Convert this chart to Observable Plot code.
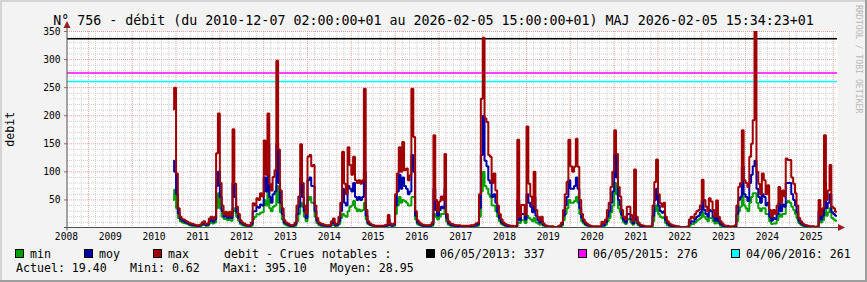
<!DOCTYPE html>
<html><head><meta charset="utf-8">
<script src="https://cdn.jsdelivr.net/npm/d3@7"></script>
<script src="https://cdn.jsdelivr.net/npm/@observablehq/plot@0.6"></script>
<style>
html,body{margin:0;padding:0;background:#f3f3f3;}
#chart{width:867px;height:282px;overflow:hidden;}
svg{display:block}
</style></head><body><div id="chart"></div>
<script>
const FONT = "DejaVu Sans Mono, monospace";
const titleText = "N° 756 - débit (du 2010-12-07 02:00:00+01 au 2026-02-05 15:00:00+01) MAJ 2026-02-05 15:34:23+01";
const yLabel = "debit";
const watermark = "RRDTOOL / TOBI OETIKER";

// first two samples (Dec 2010), then two samples per month (1st, 16th) from Jan 2011
const firstDates = ["2010-12-07", "2010-12-16"];
const halfMonthStartYear = 2011;

const maxSeries = [
  211, 250,
  97, 35, 20, 16, 15, 13, 11, 9, 8, 7, 6, 5, 5, 6, 10, 12, 7, 8, 17, 20, 15, 20, 133, 204,
  80, 40, 24, 29, 22, 29, 22, 176, 79, 38, 25, 14, 10, 8, 6, 5, 5, 10, 44, 40, 53, 50, 62, 56,
  156, 95, 204, 79, 67, 91, 103, 298, 140, 67, 35, 14, 10, 8, 6, 5, 6, 10, 40, 56, 149, 80, 40, 25,
  127, 130, 110, 112, 40, 18, 10, 8, 7, 6, 5, 5, 5, 12, 17, 7, 8, 20, 45, 136, 79, 60, 144, 112,
  95, 127, 85, 80, 85, 79, 85, 248, 32, 12, 8, 6, 5, 4, 4, 4, 4, 4, 5, 6, 23, 8, 6, 8,
  60, 97, 144, 100, 153, 103, 106, 85, 94, 248, 162, 30, 14, 10, 7, 6, 5, 5, 5, 6, 10, 165, 50, 30,
  47, 56, 50, 132, 25, 12, 8, 7, 6, 5, 5, 5, 4, 4, 4, 4, 4, 5, 5, 6, 8, 10, 60, 230,
  339, 195, 189, 130, 127, 80, 97, 67, 40, 25, 15, 10, 7, 6, 5, 4, 4, 3, 4, 157, 20, 41, 41, 23,
  181, 79, 56, 40, 100, 32, 20, 14, 20, 8, 5, 4, 3, 3, 3, 2, 2, 3, 5, 10, 32, 60, 82, 157,
  110, 100, 109, 159, 109, 50, 25, 15, 10, 7, 5, 4, 3, 3, 3, 3, 3, 11, 8, 15, 32, 45, 73, 100,
  174, 132, 73, 56, 32, 20, 15, 38, 38, 23, 12, 104, 20, 10, 6, 5, 4, 3, 3, 3, 4, 40, 82, 122,
  60, 44, 38, 45, 20, 12, 8, 6, 5, 4, 3, 3, 2, 2, 2, 2, 3, 15, 20, 18, 25, 30, 32, 40,
  86, 50, 38, 30, 53, 47, 32, 20, 49, 20, 12, 8, 5, 4, 4, 3, 3, 3, 5, 40, 73, 80, 174, 85,
  80, 73, 127, 150, 192, 395, 100, 79, 60, 97, 85, 60, 76, 32, 20, 32, 25, 40, 73, 45, 67, 56, 124, 121,
  121, 90, 79, 62, 40, 18, 12, 8, 6, 5, 4, 3, 3, 3, 2, 3, 50, 23, 35, 165, 50, 67, 112, 38,
  35, 29, 29
];
const moySeries = [
  120, 100,
  60, 26, 16, 13, 12, 10, 9, 7, 6, 5, 5, 4, 4, 5, 7, 9, 5, 6, 12, 15, 11, 15, 75, 100,
  55, 30, 20, 22, 18, 22, 18, 80, 55, 28, 18, 10, 8, 6, 5, 4, 4, 7, 30, 30, 38, 36, 42, 40,
  90, 65, 150, 55, 45, 60, 65, 150, 80, 45, 25, 10, 8, 6, 4, 4, 4, 7, 25, 38, 90, 55, 30, 18,
  85, 90, 75, 75, 30, 13, 8, 6, 5, 4, 4, 4, 4, 8, 10, 5, 6, 12, 30, 70, 45, 40, 75, 70,
  65, 80, 55, 50, 55, 50, 55, 100, 22, 9, 6, 5, 4, 3, 3, 3, 3, 3, 4, 4, 15, 6, 4, 6,
  40, 65, 95, 70, 90, 75, 70, 60, 65, 130, 100, 22, 10, 7, 5, 4, 4, 4, 4, 4, 7, 70, 32, 22,
  32, 38, 35, 70, 18, 9, 6, 5, 4, 4, 3, 3, 3, 3, 3, 3, 3, 3, 4, 4, 5, 7, 35, 130,
  200, 120, 110, 85, 80, 55, 60, 45, 28, 17, 10, 7, 5, 4, 3, 3, 3, 2, 3, 50, 14, 25, 25, 15,
  60, 45, 38, 28, 55, 22, 14, 10, 13, 6, 4, 3, 2, 2, 2, 2, 2, 2, 3, 7, 22, 40, 55, 85,
  70, 70, 75, 90, 70, 35, 18, 11, 7, 5, 4, 3, 2, 2, 2, 2, 2, 6, 5, 10, 20, 30, 45, 65,
  130, 90, 50, 40, 23, 14, 10, 25, 25, 15, 8, 50, 14, 7, 4, 3, 3, 2, 2, 2, 3, 22, 50, 70,
  40, 30, 27, 30, 14, 8, 5, 4, 3, 3, 2, 2, 1.5, 1.5, 1.5, 1.5, 2, 8, 12, 11, 16, 20, 22, 28,
  50, 32, 25, 20, 32, 30, 20, 13, 28, 12, 7, 5, 3, 3, 2, 2, 2, 2, 3, 25, 50, 55, 110, 60,
  55, 48, 80, 95, 110, 120, 70, 55, 45, 60, 55, 40, 45, 20, 13, 18, 16, 25, 45, 30, 42, 38, 80, 80,
  80, 60, 50, 40, 28, 13, 8, 6, 4, 4, 3, 2, 2, 2, 1.5, 2, 30, 15, 22, 80, 35, 45, 60, 28,
  25, 22, 22
];
const minSeries = [
  50, 68,
  35, 18, 12, 10, 9, 8, 7, 5, 4, 4, 3, 3, 3, 3, 5, 6, 4, 4, 8, 10, 8, 10, 35, 62,
  35, 20, 16, 16, 14, 16, 13, 35, 30, 20, 13, 7, 5, 4, 3, 3, 3, 4, 16, 20, 25, 24, 27, 28,
  50, 40, 65, 35, 30, 38, 40, 75, 45, 28, 15, 7, 5, 4, 3, 3, 3, 4, 12, 25, 45, 38, 20, 12,
  50, 55, 45, 45, 20, 9, 5, 4, 3, 3, 3, 3, 3, 5, 6, 3, 4, 7, 18, 25, 22, 20, 30, 38,
  40, 48, 35, 30, 33, 30, 32, 45, 15, 7, 5, 4, 3, 3, 2, 2, 2, 2, 3, 3, 8, 4, 3, 4,
  25, 40, 55, 45, 50, 48, 45, 40, 40, 55, 55, 15, 7, 5, 4, 3, 3, 3, 3, 3, 4, 25, 20, 15,
  20, 25, 25, 40, 12, 6, 4, 3, 3, 3, 2, 2, 2, 2, 2, 2, 2, 2, 2, 3, 3, 4, 20, 65,
  100, 75, 70, 60, 55, 40, 40, 30, 20, 12, 7, 5, 4, 3, 2, 2, 2, 2, 2, 10, 9, 14, 14, 9,
  22, 18, 15, 12, 18, 10, 8, 6, 8, 4, 3, 2, 2, 1.5, 1.5, 1.5, 1.5, 1.5, 2, 4, 14, 25, 35, 50,
  45, 45, 48, 55, 45, 25, 12, 8, 5, 4, 3, 2, 1.5, 1.5, 1.5, 1.5, 1.5, 3, 3, 6, 12, 18, 28, 40,
  80, 60, 35, 28, 17, 10, 7, 15, 16, 10, 6, 20, 9, 5, 3, 2, 2, 1.5, 1.5, 1.5, 2, 12, 30, 40,
  25, 20, 18, 20, 9, 5, 3, 3, 2, 2, 1.5, 1.5, 1, 1, 1, 1, 1, 4, 7, 7, 10, 13, 15, 18,
  28, 20, 16, 12, 18, 18, 12, 8, 14, 8, 4, 3, 2, 2, 1.5, 1.5, 1.5, 1.5, 2, 12, 30, 38, 62, 40,
  35, 30, 45, 55, 62, 62, 45, 35, 30, 35, 35, 25, 25, 12, 7, 8, 8, 14, 25, 20, 25, 25, 45, 48,
  45, 38, 32, 25, 18, 9, 6, 4, 3, 3, 2, 1.5, 1.5, 1.5, 1, 1.5, 15, 10, 14, 40, 22, 28, 35, 18,
  15, 13, 13
];

const yearLabels = [2008,2009,2010,2011,2012,2013,2014,2015,2016,2017,2018,2019,2020,2021,2022,2023,2024,2025];
const yTicks = [50, 100, 150, 200, 250, 300, 350];
const yMinorStep = 10;
const yDomain = [0, 350];
const xDomain = ["2008-07-10T00:00:00Z", "2026-02-05T14:00:00Z"];

const seriesNames = ["min", "moy", "max"];
const seriesColors = ["#00a000", "#0000a8", "#a00000"];
const crueTitle = "debit - Crues notables :";
const crueLabels = ["06/05/2013: 337", "06/05/2015: 276", "04/06/2016: 261"];
const crueValues = [337, 276, 261];
const crueColors = ["#000000", "#ff00ff", "#00ffff"];
const statLabels = ["Actuel: 19.40", "Mini: 0.62", "Maxi: 395.10", "Moyen: 28.95"];

(function draw() {
  const dates = firstDates.map(d => new Date(d + "T00:00:00Z"));
  for (let i = 0; dates.length < maxSeries.length; i++) {
    dates.push(new Date(Date.UTC(halfMonthStartYear, Math.floor(i / 2), i % 2 ? 16 : 1)));
  }
  const toRows = vals => vals.map((v, i) => ({date: dates[i], value: v}));
  const series = [minSeries, moySeries, maxSeries].map(toRows);

  const x0d = new Date(xDomain[0]), x1d = new Date(xDomain[1]);
  const majorX = d3.utcYear.range(d3.utcYear.ceil(x0d), x1d);
  const minorX = d3.utcMonth.every(2).range(x0d, x1d).filter(d => d.getUTCMonth() !== 0);
  const minorY = d3.range(yMinorStep, yDomain[1] + 1, yMinorStep).filter(v => v % 50 !== 0);

  const dots = "1,1";
  const chart = Plot.plot({
    width: 867, height: 282,
    marginLeft: 67, marginRight: 30, marginTop: 31, marginBottom: 54.5,
    style: {background: "#f3f3f3", fontFamily: FONT, fontSize: "9.6px", color: "#000", overflow: "visible"},
    x: {type: "utc", domain: [x0d, x1d], axis: null},
    y: {domain: yDomain, axis: null},
    marks: [
      Plot.frame({fill: "white", stroke: null}),
      Plot.ruleY(minorY, {stroke: "#cfcfcf", strokeDasharray: dots}),
      Plot.ruleX(minorX, {stroke: "#cfcfcf", strokeDasharray: dots}),
      Plot.ruleY(yTicks, {stroke: "#e8a0a0", strokeDasharray: dots}),
      Plot.ruleX(majorX, {stroke: "#e8a0a0", strokeDasharray: dots}),
      ...crueValues.map((v, i) => Plot.ruleY([v], {stroke: crueColors[i], strokeWidth: 1.5})),
      ...series.map((rows, i) => Plot.line(rows, {
        x: "date", y: "value", curve: "step-after",
        stroke: seriesColors[i], strokeWidth: 2,
        strokeLinejoin: "miter", strokeLinecap: "butt", clip: true
      })),
      Plot.axisY({ticks: yTicks, tickSize: 3, tickPadding: 4, label: null, stroke: "#c06060", tickFormat: d => String(d)}),
      Plot.text(yearLabels, {
        x: d => new Date(Date.UTC(d, 6, 1)), text: d => String(d),
        frameAnchor: "bottom", lineAnchor: "top", dy: 5.5, fontSize: 9.6, fill: "#000"
      })
    ]
  });
  document.getElementById("chart").appendChild(chart);

  const svg = d3.select(chart);
  const X = chart.scale("x"), Y = chart.scale("y");
  const pL = X.range[0], pR = X.range[1], pB = Y.range[0], pT = Y.range[1];
  const axisCol = "#505050", arrowCol = "#9a1c1c";

  svg.append("line").attr("x1", pL - 3).attr("x2", pR + 2).attr("y1", pB).attr("y2", pB)
    .attr("stroke", axisCol).attr("stroke-width", 1);
  svg.append("line").attr("x1", pL).attr("x2", pL).attr("y1", pB + 3).attr("y2", pT - 4)
    .attr("stroke", axisCol).attr("stroke-width", 1);
  svg.append("path").attr("d", `M${pR + 1},${pB - 3.5}L${pR + 8},${pB}L${pR + 1},${pB + 3.5}Z`).attr("fill", arrowCol);
  svg.append("path").attr("d", `M${pL - 3.5},${pT - 3}L${pL},${pT - 10}L${pL + 3.5},${pT - 3}Z`).attr("fill", arrowCol);

  svg.append("line").attr("x1", 0).attr("x2", 867).attr("y1", 1).attr("y2", 1).attr("stroke", "#d4d4d4").attr("stroke-width", 2);
  svg.append("line").attr("x1", 1).attr("x2", 1).attr("y1", 0).attr("y2", 282).attr("stroke", "#d4d4d4").attr("stroke-width", 2);
  svg.append("line").attr("x1", 866).attr("x2", 866).attr("y1", 0).attr("y2", 282).attr("stroke", "#9e9e9e").attr("stroke-width", 2);
  svg.append("line").attr("x1", 0).attr("x2", 867).attr("y1", 281).attr("y2", 281).attr("stroke", "#9e9e9e").attr("stroke-width", 2);

  const txt = (x, y, s, size, opts = {}) => {
    const t = svg.append("text").attr("x", x).attr("y", y).text(s)
      .attr("font-family", FONT).attr("font-size", size).attr("fill", opts.fill || "#000")
      .attr("text-anchor", opts.anchor || "start");
    if (opts.rotate != null) t.attr("transform", `rotate(${opts.rotate},${x},${y})`);
    return t;
  };

  txt(433.5, 24.5, titleText, "13.3px", {anchor: "middle"});
  txt(14, (pT + pB) / 2, yLabel, "11.6px", {anchor: "middle", rotate: -90});
  txt(856, 5, watermark, "8.2px", {fill: "#b8b8b8", rotate: 90});

  const sq = (x, color) => svg.append("rect").attr("x", x + 0.5).attr("y", 249.5).attr("width", 8).attr("height", 8)
    .attr("fill", color).attr("stroke", "#000").attr("stroke-width", 1);
  const seriesSqX = [15, 84, 153];
  const seriesTxtX = [30, 99, 168];
  seriesNames.forEach((n, i) => { sq(seriesSqX[i], seriesColors[i]); txt(seriesTxtX[i], 257.5, n, "11.6px"); });
  txt(224, 257.5, crueTitle, "11.6px");
  const crueSqX = [426, 578, 731];
  const crueTxtX = [440, 593, 746];
  crueLabels.forEach((l, i) => { sq(crueSqX[i], crueColors[i]); txt(crueTxtX[i], 257.5, l, "11.6px"); });
  const statX = [16, 130, 223, 330];
  statLabels.forEach((s, i) => txt(statX[i], 271.5, s, "11.6px"));
})();
</script></body></html>
